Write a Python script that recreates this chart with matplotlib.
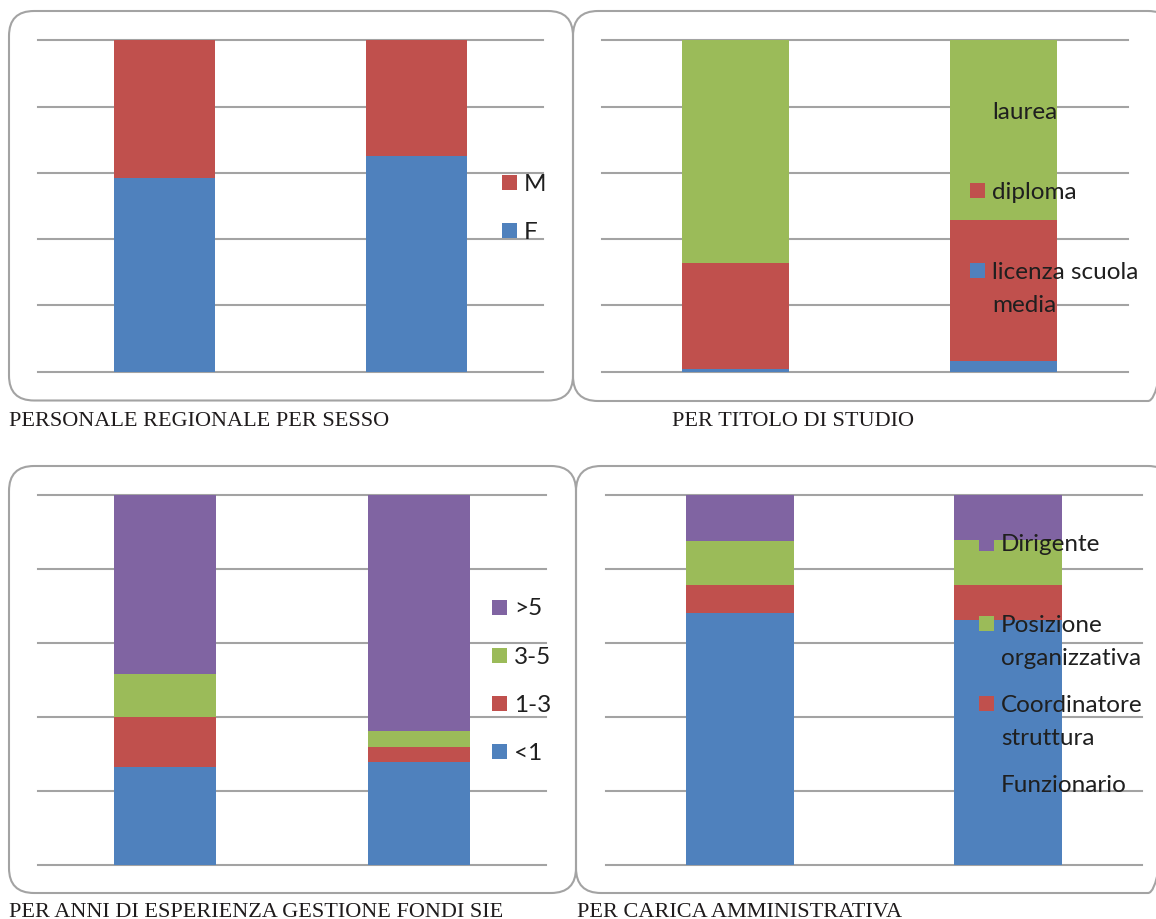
import matplotlib
matplotlib.use('Agg')
import matplotlib.pyplot as plt
from matplotlib.patches import FancyBboxPatch, Rectangle

# --- dati (percentuali) ---
gruppi = ['A', 'B']

sesso_serie = ['F', 'M']
sesso_F = [58.5, 65.0]
sesso_M = [41.5, 35.0]

titolo_serie = ['licenza scuola\nmedia', 'diploma', 'laurea']
titolo_licenza = [0.8, 3.2]
titolo_diploma = [32.0, 42.7]
titolo_laurea = [67.2, 54.1]

anni_serie = ['<1', '1-3', '3-5', '>5']
anni_meno1 = [26.3, 27.8]
anni_1_3 = [13.5, 4.1]
anni_3_5 = [11.7, 4.2]
anni_oltre5 = [48.5, 63.9]

carica_serie = ['Funzionario', 'Coordinatore\nstruttura', 'Posizione\norganizzativa', 'Dirigente']
carica_funz = [67.9, 66.1]
carica_coord = [7.8, 9.6]
carica_po = [11.8, 12.1]
carica_dir = [12.5, 12.2]

didascalie = ['PERSONALE REGIONALE PER SESSO', 'PER TITOLO DI STUDIO',
              'PER ANNI DI ESPERIENZA GESTIONE FONDI SIE', 'PER CARICA AMMINISTRATIVA']

colori = ['#4f81bd', '#c0504d', '#9bbb59', '#8064a2']
GRIGIO = '#a3a3a3'
W, H = 1156, 920

fig = plt.figure(figsize=(W / 100, H / 100), dpi=100)


def rect_px(x0, y0, x1, y1):
    # da pixel (origine in alto a sinistra) a coordinate figura
    return [x0 / W, 1 - y1 / H, (x1 - x0) / W, (y1 - y0) / H]


def pannello(box, valori, xlim=(-0.5, 1.5)):
    ax = fig.add_axes(rect_px(*box))
    ax.set_facecolor('none')
    x = list(range(len(gruppi)))
    base = [0] * len(gruppi)
    for i, vals in enumerate(valori):
        ax.bar(x, vals, width=0.4, bottom=base, color=colori[i], linewidth=0, zorder=3)
        base = [b + v for b, v in zip(base, vals)]
    ax.set_xlim(*xlim)
    ax.set_ylim(0, 100)
    ax.set_yticks([0, 20, 40, 60, 80, 100])
    ax.set_xticks([])
    ax.tick_params(left=False, labelleft=False)
    ax.grid(axis='y', color=GRIGIO, linewidth=1.5)
    ax.set_axisbelow(True)
    for gl in ax.get_ygridlines():
        gl.set_clip_on(False)
    for s in ax.spines.values():
        s.set_visible(False)
    return ax


pannello((38, 41.3, 543, 372.5), [sesso_F, sesso_M])
pannello((602, 41.3, 1128, 372.7), [titolo_licenza, titolo_diploma, titolo_laurea], xlim=(-0.5, 1.465))
pannello((38, 495.7, 546, 865.7), [anni_meno1, anni_1_3, anni_3_5, anni_oltre5])
pannello((606, 495.7, 1142, 865.7), [carica_funz, carica_coord, carica_po, carica_dir])

# livello sopra: cornici, didascalie, legende (in pixel)
ov = fig.add_axes([0, 0, 1, 1], zorder=10)
ov.set_xlim(0, W)
ov.set_ylim(H, 0)
ov.axis('off')
ov.patch.set_alpha(0)

cornici = [(9, 12, 573, 401.5), (573, 12, 1173, 402), (9, 467, 576, 894), (576, 467, 1173, 894)]
for x0, y0, x1, y1 in cornici:
    ov.add_patch(FancyBboxPatch((x0, y0), x1 - x0, y1 - y0,
                                boxstyle='round,pad=0,rounding_size=25',
                                facecolor='none', edgecolor=GRIGIO, linewidth=1.5))

pos_didascalie = [(9, 426), (672, 426), (9, 917), (577, 917)]
for testo, (x, y) in zip(didascalie, pos_didascalie):
    ov.text(x, y, testo, fontsize=16, family='Liberation Serif', color='#1f1b1c', va='baseline')

# legende: x del quadratino, centro della prima voce, passo tra le voci
legende = [(sesso_serie, 502, 183.5, 48), (titolo_serie, 970, 111.5, 80),
           (anni_serie, 492, 608, 48.3), (carica_serie, 979, 544, 80.2)]
for serie, lx, ly, passo in legende:
    n = len(serie)
    for k, nome in enumerate(reversed(serie)):
        col = colori[n - 1 - k]
        yc = ly + k * passo
        ov.add_patch(Rectangle((lx, yc - 7.5), 15, 15, facecolor=col, edgecolor='none'))
        for j, riga in enumerate(nome.split('\n')):
            ov.text(lx + 22, yc + 7.5 + j * 33, riga, fontsize=17.5, family='Lato',
                    color='#1f1f1f', va='baseline')

fig.savefig('out.png', dpi=100)
